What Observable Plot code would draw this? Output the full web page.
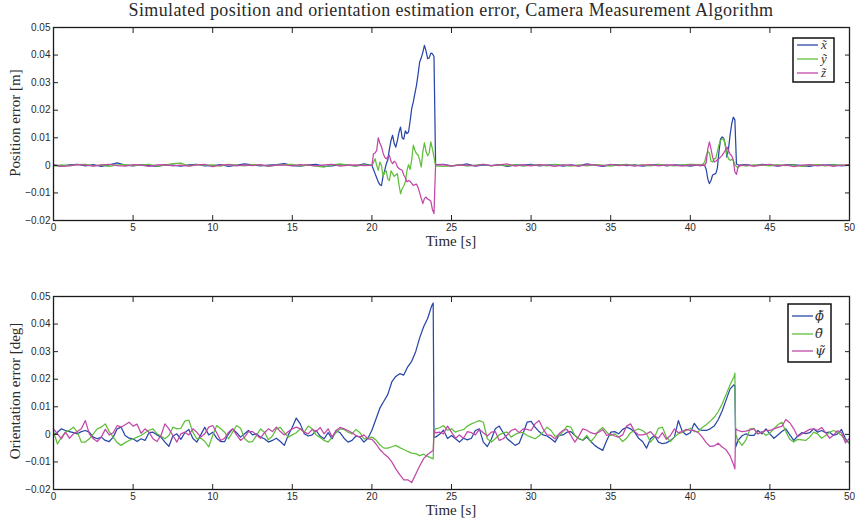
<!DOCTYPE html>
<html><head><meta charset="utf-8">
<script src="https://cdn.jsdelivr.net/npm/d3@7"></script>
<script src="https://cdn.jsdelivr.net/npm/@observablehq/plot@0.6"></script>
<style>
body{margin:0;background:#fff;}
#wrap{position:relative;width:855px;height:522px;overflow:hidden;font-family:"Liberation Serif","Times New Roman",serif;color:#2a2a2a;}
.abs{position:absolute;}
#title{left:53px;width:796px;top:0px;text-align:center;font-size:18px;letter-spacing:0.4px;white-space:nowrap;}
.xlab{font-size:15px;transform:translate(-50%,-50%);white-space:nowrap;}
.ylab{font-size:15px;transform:translate(-50%,-50%) rotate(-90deg);white-space:nowrap;}
</style></head>
<body>
<div id="wrap">
  <div id="p1" class="abs" style="left:0;top:0"></div>
  <div id="p2" class="abs" style="left:0;top:250px"></div>
  <div id="title" class="abs">Simulated position and orientation estimation error, Camera Measurement Algorithm</div>
  <div class="abs xlab" style="left:451px;top:241px">Time [s]</div>
  <div class="abs xlab" style="left:451px;top:510px">Time [s]</div>
  <div class="abs ylab" style="left:15px;top:123px">Position error [m]</div>
  <div class="abs ylab" style="left:15px;top:391px">Orientation error [deg]</div>
  <div id="leg1" class="abs" style="left:792px;top:37px"></div>
  <div id="leg2" class="abs" style="left:787px;top:303px"></div>
</div>
<script>
// ---------- data (values in units of 1e-3) ----------
const xTicks = [0,5,10,15,20,25,30,35,40,45,50];
const yTicks = [-0.02,-0.01,0,0.01,0.02,0.03,0.04,0.05];
const seriesColors = ["#2947a8","#5fbf3a","#c247a8"];
const posNames = ["x\u0303","y\u0303","z\u0303"];
const oriNames = ["\u03D5\u0303","\u03B8\u0303","\u03C8\u0303"];

const posTime = [
 0,0.5,1,1.5,2,2.5,3,3.5,4,4.5,5,5.5,6,6.5,7,7.5,8,8.5,9,9.5,
 10,10.5,11,11.5,12,12.5,13,13.5,14,14.5,15,15.5,16,16.5,17,17.5,18,18.5,19,19.5,
 20,20.1,20.2,20.3,20.4,20.5,20.6,20.7,20.8,20.9,21,21.1,21.2,21.3,21.4,21.5,21.6,21.7,21.8,21.9,
 22,22.1,22.2,22.3,22.4,22.5,22.6,22.7,22.8,22.9,23,23.1,23.2,23.3,23.4,23.5,23.6,23.7,23.8,23.9,
 24,
 24.5,25,25.5,26,26.5,27,27.5,28,28.5,29,29.5,30,30.5,31,31.5,32,32.5,33,33.5,34,34.5,35,35.5,36,36.5,37,37.5,38,38.5,39,39.5,40,40.5,
 40.6,40.7,40.8,40.9,41,41.1,41.2,41.3,41.4,41.5,41.6,41.7,41.8,41.9,42,42.1,42.2,42.3,42.4,42.5,42.6,42.7,42.8,42.9,43,43.1,43.2,
 43.5,44,44.5,45,45.5,46,46.5,47,47.5,48,48.5,49,49.5,50
];
const posX = [
 0.1,-0.3,0.2,0.4,-0.2,0.3,-0.4,0.2,0.9,0.1,-0.2,0.3,-0.1,-0.4,0.2,0.1,-0.3,0.2,0.4,-0.2,
 -0.1,0.3,-0.4,0.1,0.5,0.2,-0.2,0.1,0.3,0.6,-0.1,-0.3,0.2,0.4,-0.4,-0.2,0.3,0.1,-0.2,0.5,
 0,-1.5,-3,-4.5,-6,-7,-7.3,-4,-2,0.5,2,6,9,10.9,8,6.6,9,12,13.9,10,
 9.5,12.5,11.5,12.1,16,20.6,23,26,29,33,37.5,39,41,43.5,41.5,38.7,39,40.7,40.5,39.5,
 0.3,
 0.4,-0.2,0.1,0.5,-0.3,0.2,-0.1,0.3,-0.4,0.2,0.1,0.4,-0.2,0.1,0.3,-0.3,0.2,-0.2,0.5,0.1,-0.4,0.2,0.3,-0.1,0.2,-0.3,0.1,0.4,-0.2,0.2,0.1,-0.3,0.2,
 0.2,-0.1,0.1,0,-1.5,-5,-6.6,-5.5,-3.5,-3.2,-3,-1,5,9.5,10.3,9.8,7.5,3,6,11,15,17.5,16.5,0.5,0.2,-0.2,0.3,
 0.3,-0.2,0.4,0.1,-0.3,0.2,0.3,-0.1,-0.4,0.2,0.1,0.3,-0.2,0.1
];
const posY = [
 -0.3,0.2,-0.1,0.3,0.4,-0.2,0.1,-0.4,0.2,0.3,-0.1,0.2,0.4,-0.3,0.1,0.6,0.8,-0.2,0.3,0.1,
 0.2,-0.3,0.4,0.1,-0.2,0.3,0.2,-0.4,0.1,0.3,0.4,-0.2,0.1,-0.3,-0.6,0.2,0.5,0.1,-0.3,0.2,
 0,1,2.4,0,-1.8,1.2,0,-4,-2.5,-2,-5,-5.5,-2,-3,-4,-3.5,-3,-7,-10.3,-8.5,
 -7.5,-6,-2,0.3,-1.5,2,7.3,5.5,4.2,3.8,2,-0.6,5,8.2,5,3.5,4.5,8.5,6,3,
 -0.2,
 -0.4,-0.2,0.3,-0.3,0.1,0.4,-0.2,0.2,-0.1,0.3,-0.3,0.1,0.2,-0.2,0.4,0.1,-0.3,0.2,-0.2,0.3,0.1,-0.3,0.2,0.4,-0.1,0.2,-0.2,0.3,0.1,-0.2,0.2,0.4,0.3,
 0.2,0.3,0.5,1.2,3.6,5,4.5,1.5,1.2,2.4,2.5,5,7.5,9.1,9.5,9.7,7,4,2.4,1.8,2.2,1.8,0.3,-0.5,-0.8,-0.3,0.2,
 -0.3,0.2,0.1,-0.2,0.3,-0.1,0.2,-0.4,0.1,0.3,-0.2,0.2,0.1,-0.1
];
const posZ = [
 0.2,-0.4,-0.2,0.3,0.1,-0.3,0.2,0.4,-0.1,-0.3,0.3,0.1,-0.4,0.2,0.3,-0.2,0.1,-0.3,0.2,0.4,
 -0.5,0.1,0.3,-0.2,0.2,-0.1,0.3,-0.3,0.1,0.2,-0.2,0.3,0.1,-0.2,0.2,0.4,-0.3,0.1,0.2,-0.1,
 0,4.2,4.5,5.4,10,8,6.8,4.5,3,2.4,3,3.6,1.5,0.6,1.5,1,-0.5,-1.2,-1.5,-1.8,
 -3.5,-4.5,-6,-5.5,-5.8,-6.5,-7.3,-7,-6.8,-8,-10,-12,-13.9,-12,-11.5,-12.2,-12.5,-13,-16,-17.5,
 0.2,
 0.3,-0.3,0.2,0.1,-0.2,0.4,-0.1,0.2,0.5,-0.3,0.2,-0.2,0.3,0.1,-0.4,0.2,0.1,-0.3,0.3,0.2,-0.2,0.4,-0.1,0.2,-0.3,0.1,0.3,-0.2,0.2,0.1,-0.3,0.2,0.1,
 -0.2,0.1,0.2,0,1,6,8.5,6,3,1.2,1.5,2,2.4,3,3.6,4.5,5.5,6.6,5.5,4,3.5,2,-2.4,-3.3,-0.5,0.2,-0.1,
 0.2,-0.3,0.1,0.4,-0.2,0.2,-0.5,0.1,0.3,-0.2,0.2,-0.4,0.1,0.2
];

const oriTime = [
 0,0.25,0.5,0.75,1,1.25,1.5,1.75,2,2.25,2.5,2.75,3,3.25,3.5,3.75,4,4.25,4.5,4.75,
 5,5.25,5.5,5.75,6,6.25,6.5,6.75,7,7.25,7.5,7.75,8,8.25,8.5,8.75,9,9.25,9.5,9.75,
 10,10.25,10.5,10.75,11,11.25,11.5,11.75,12,12.25,12.5,12.75,13,13.25,13.5,13.75,14,14.25,14.5,14.75,
 15,15.25,15.5,15.75,16,16.25,16.5,16.75,17,17.25,17.5,17.75,18,18.25,18.5,18.75,19,19.25,19.5,19.75,
 20,20.25,20.5,20.75,21,21.25,21.5,21.75,22,22.25,22.5,22.75,23,23.25,23.5,23.75,23.85,23.9,
 24,24.25,24.5,24.75,25,25.25,25.5,25.75,26,26.25,26.5,26.75,27,27.25,27.5,27.75,28,28.25,28.5,28.75,
 29,29.25,29.5,29.75,30,30.25,30.5,30.75,31,31.25,31.5,31.75,32,32.25,32.5,32.75,33,33.25,33.5,33.75,
 34,34.25,34.5,34.75,35,35.25,35.5,35.75,36,36.25,36.5,36.75,37,37.25,37.5,37.75,38,38.25,38.5,38.75,
 39,39.25,39.5,39.75,40,40.25,40.5,40.75,41,41.25,41.5,41.75,42,42.25,42.5,42.75,42.8,42.85,
 43,43.25,43.5,43.75,44,44.25,44.5,44.75,45,45.25,45.5,45.75,46,46.25,46.5,46.75,47,47.25,47.5,47.75,
 48,48.25,48.5,48.75,49,49.25,49.5,49.75,50
];
const oriPhi = [
 -0.4,0.8,2.0,1.4,1.0,0.6,0.2,1.0,1.4,0.8,-1.0,-1.6,-1.0,-2.2,-2.6,-1.0,2.0,2.6,-0.4,-1.4,
 -1.6,-2.6,-1.6,-2.2,0.6,0.8,-0.2,-1.0,-2.8,-4.3,-0.6,0.2,-1.8,0.6,1.8,-1.4,-2.8,-0.2,2.6,-0.2,
 0.8,-1.4,-2.6,-2.6,0.2,2.0,0.6,-1.0,0.2,1.4,-0.2,0.2,-1.0,-1.6,-2.8,-2.2,-1.4,-2.6,-4.0,-0.2,
 2.6,5.9,3.8,0.2,-0.6,-0.2,1.4,-0.6,-1.6,0.6,-1.6,1.4,0.6,-1.4,-2.8,-2.2,-0.6,-1.0,-2.8,-1.4,
 1.5,5.5,9.5,12,14.5,19,21,22,21.5,24.5,26.5,30,35,39,42,46.5,47.6,-1.0,
 -1.0,0,1.5,-1.5,-0.4,-1.6,-2.8,-1.4,-2.0,-1.4,1.4,2.0,-2.8,-4.4,-1.8,2.0,3.0,0.6,-1.6,-2.8,
 -4.0,-3.2,0.4,4.4,4.7,2.6,1.0,-0.2,-0.6,-1.6,-2.8,-0.4,-0.2,0.8,1.0,-0.4,-1.6,-2.1,-1.0,-2.6,
 -4.0,-5.0,-5.8,-2.2,0.8,1.0,0.2,1.8,2.6,2.0,0.8,-1.4,-2.6,-5.0,-1.6,-0.4,-2.8,-3.4,-3.1,-2.2,
 -1.0,5.0,1.0,-0.2,0.6,4.0,2.0,1.4,1.4,2.0,3.0,5.3,8.5,12.5,16.5,18.0,17.5,-4.6,
 -2.2,-0.5,0.2,-0.4,-0.4,1.4,0.2,2.0,0.2,-1.4,-0.2,1.0,2.0,-0.2,-2.2,-0.6,0.6,0.3,0.6,2.0,
 0.8,1.4,0.6,0.8,-0.4,0.2,1.8,-1.6,-3.4
];
const oriTheta = [
 1.0,-3.5,-1.0,0.8,1.5,2.6,0.8,-2.8,-2.8,-1.6,0.2,2.0,2.6,3.8,1.0,-1.0,-3.0,-4.0,-3.0,-2.2,
 -1.6,-1.0,-0.4,0.6,1.5,2.0,0.2,-0.6,-1.6,-0.4,2.6,2.0,2.2,4.8,5.2,0.8,-1.6,-1.4,-2.5,-4.5,
 -0.4,3.2,2.0,0.8,-1.6,0.8,3.2,2.2,-1.5,-2.8,-2.6,-0.4,2.0,0.8,-2.0,-0.6,2.0,2.5,0.6,-1.0,
 -0.2,0.6,2.0,0.8,3.0,2.0,-0.2,-1.1,-2.2,-2.8,-1.0,0.6,2.0,1.8,0.8,0.2,1.8,0.6,-1.6,-1.4,
 -1.0,-2.0,-3.8,-5.0,-5.0,-4.5,-4.0,-4.8,-5.5,-6.2,-6.8,-7.0,-7.7,-7.2,-8.0,-8.6,-8.9,1.0,
 2.0,2.4,3.2,1.5,2.0,0.8,1.4,1.7,3.0,3.8,4.4,5.0,4.4,-1.6,-2.8,-1.6,-0.2,0.6,0.8,-1.0,
 0,0.6,0.6,-0.4,-1.0,-1.6,-0.6,0.8,2.6,1.4,-0.6,-0.6,1.0,3.0,2.6,-0.4,-1.6,-2.0,-0.4,-2.6,
 -1.0,1.4,2.5,0.8,-0.4,0.2,-1.0,-2.6,-1.4,0.6,1.4,2.0,1.4,0.2,-2.8,-1.0,2.2,2.6,-1.0,-2.6,
 -1.0,0.2,0.8,1.4,2.2,1.0,1.0,2.5,3.5,4.8,6.2,8.2,11.0,14.5,18.0,21.0,22.2,0.0,
 -2.2,-4.0,-2.0,2.0,2.2,0.2,1.0,-0.4,0.5,2.0,3.5,4.4,1.0,-1.8,-2.8,-1.8,-2.0,-2.2,-1.0,0.8,
 0.2,-1.4,-0.4,0.8,1.4,0.8,-0.4,-2.2,-3.1
];
const oriPsi = [
 2.0,0.2,-1.6,0.8,-1.4,0.2,1.0,2.0,5.0,0.2,-1.6,-2.6,-1.0,1.8,-0.2,0.6,3.2,2.6,3.5,4.4,
 3.0,3.7,0.4,2.0,0.8,-1.6,-2.6,-0.4,3.8,2.0,-0.4,-2.8,0.2,0.8,-0.2,2.0,0.8,-1.0,0.2,2.6,
 3.2,0.6,-2.2,-1.4,0.8,2.0,-0.2,-2.2,-1.0,1.0,1.0,-0.2,-1.4,0.6,2.0,1.0,2.6,1.0,-0.2,1.0,
 2.0,2.6,2.0,0.8,0.2,1.8,1.0,2.5,0.2,2.0,-1.0,1.4,2.5,2.0,1.4,0.6,-0.4,-1.0,-0.2,-1.6,
 -1.8,-3.4,-5.5,-7.0,-8.2,-10.0,-12.5,-14.6,-16.5,-16.5,-17.5,-14.5,-11.5,-8.8,-7.3,-6.2,-5.8,1.4,
 0.5,0.8,0.2,3.0,0.8,-1.4,-0.2,-1.4,1.0,0.6,-0.2,1.8,0.6,-0.6,0.8,1.0,-2.2,-1.6,-0.2,1.4,
 2.0,0.6,2.0,1.8,1.4,3.8,5.0,2.0,-0.2,-0.4,-1.6,0.2,1.4,1.8,-0.4,-2.8,-0.6,2.0,1.5,0.6,
 0.2,0.8,1.8,-0.4,0.2,-0.6,-1.0,-0.2,3.0,3.8,1.0,-0.2,-0.2,0.2,1.0,-0.6,-1.4,0.6,-1.8,-0.4,
 2.0,0.6,1.0,1.8,1.4,1.4,0.6,-1.0,-3.0,-4.4,-4.2,-3.2,-4.6,-5.6,-7.8,-11.5,-12.5,2.0,
 1.4,1.0,1.2,1.6,2.0,0.2,0.8,1.4,1.4,2.0,2.5,2.9,5.4,4.2,2.0,-0.9,0.1,1.0,1.8,2.0,
 1.5,2.5,0.6,-1.4,-0.2,1.3,0.6,-3.1,-1.4
];

// ---------- build tables ----------
function buildTable(time, names, arrays) {
  const rows = [];
  arrays.forEach((vals, k) => {
    if (vals.length !== time.length) console.error("length mismatch", names[k], vals.length, time.length);
    vals.forEach((v, i) => rows.push({t: time[i], v: v / 1000, s: names[k]}));
  });
  return rows;
}
const posTable = buildTable(posTime, posNames, [posX, posY, posZ]);
const oriTable = buildTable(oriTime, oriNames, [oriPhi, oriTheta, oriPsi]);

const fmtY = d => Math.abs(d) < 1e-9 ? "0" : d3.format(".2f")(d);

function panel(table, names, height, mt, mb) {
  return Plot.plot({
    width: 855, height, marginTop: mt, marginBottom: mb, marginLeft: 53, marginRight: 6,
    x: {domain: [0, 50]},
    y: {domain: [-0.02, 0.05]},
    color: {domain: names, range: seriesColors},
    style: {fontFamily: "'Liberation Sans', Arial, sans-serif", fontSize: "10px", color: "#2a2a2a", background: "transparent", overflow: "visible"},
    marks: [
      Plot.line(table, {x: "t", y: "v", z: "s", stroke: "s", strokeWidth: 1.25}),
      Plot.frame({stroke: "#1a1a1a", strokeWidth: 1.3}),
      Plot.axisX(xTicks, {anchor: "bottom", tickSize: 0, tickPadding: 3, label: null}),
      Plot.axisY(yTicks, {anchor: "left", tickSize: 0, tickPadding: 3, tickFormat: fmtY, label: null}),
      Plot.axisX(xTicks, {anchor: "bottom", tickSize: 5, dy: -5, fill: "none", label: null, stroke: "#222"}),
      Plot.axisX(xTicks, {anchor: "top", tickSize: 5, dy: 5, fill: "none", label: null, stroke: "#222"}),
      Plot.axisY(yTicks, {anchor: "left", tickSize: 5, dx: 5, fill: "none", label: null, stroke: "#222"}),
      Plot.axisY(yTicks, {anchor: "right", tickSize: 5, dx: -5, fill: "none", label: null, stroke: "#222"})
    ]
  });
}
document.getElementById("p1").append(panel(posTable, posNames, 250, 27, 30));
document.getElementById("p2").append(panel(oriTable, oriNames, 272, 46, 33));

// ---------- legends (single text per entry, combining tilde) ----------
function legend(el, names, w, h, rowsY, x1, x2, tx, fs, family) {
  const ns = "http://www.w3.org/2000/svg";
  const svg = document.createElementNS(ns, "svg");
  svg.setAttribute("width", w + 3); svg.setAttribute("height", h + 3);
  const r = document.createElementNS(ns, "rect");
  r.setAttribute("x", 1); r.setAttribute("y", 1); r.setAttribute("width", w); r.setAttribute("height", h);
  r.setAttribute("fill", "#fff"); r.setAttribute("stroke", "#111"); r.setAttribute("stroke-width", 1.5);
  svg.append(r);
  names.forEach((n, i) => {
    const l = document.createElementNS(ns, "line");
    l.setAttribute("x1", x1); l.setAttribute("x2", x2); l.setAttribute("y1", rowsY[i]); l.setAttribute("y2", rowsY[i]);
    l.setAttribute("stroke", seriesColors[i]); l.setAttribute("stroke-width", 1.3);
    svg.append(l);
    const t = document.createElementNS(ns, "text");
    t.setAttribute("x", tx); t.setAttribute("y", rowsY[i] + 4);
    t.setAttribute("font-family", family); t.setAttribute("font-style", "italic");
    t.setAttribute("font-size", fs); t.setAttribute("fill", "#333");
    t.textContent = n;
    svg.append(t);
  });
  el.append(svg);
}
legend(document.getElementById("leg1"), posNames, 41, 44, [8, 22, 36], 5, 26, 29, 13, "'Liberation Serif', serif");
legend(document.getElementById("leg2"), oriNames, 43, 58, [13, 31, 48], 5, 26, 28, 13, "'DejaVu Serif', serif");
</script>
</body></html>
